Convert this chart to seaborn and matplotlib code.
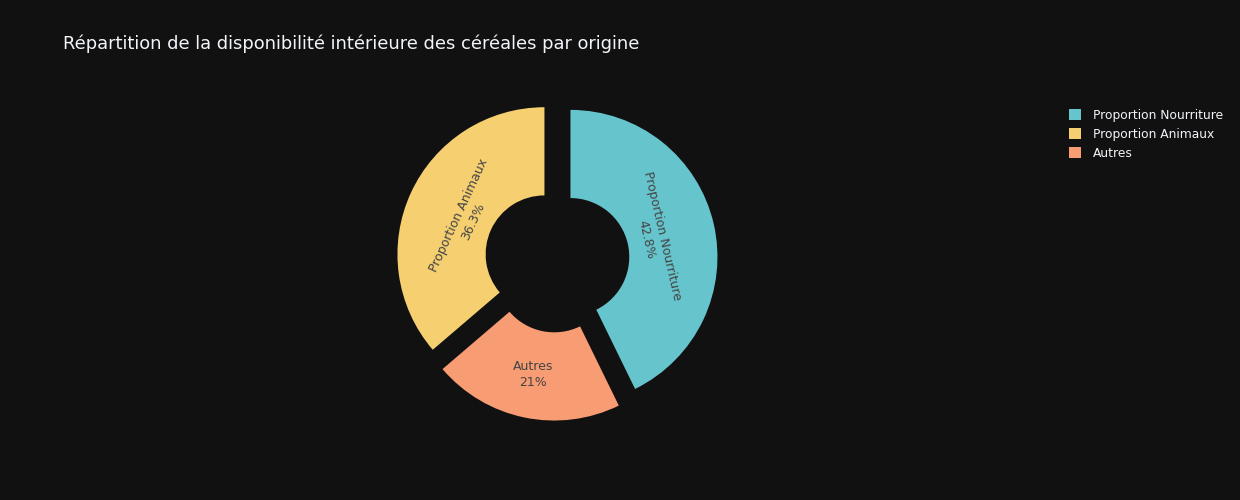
import numpy as np
import matplotlib
matplotlib.use("Agg")
import matplotlib.pyplot as plt
from matplotlib.patches import Patch
import seaborn as sns

# ---- data ----
categories = ["Proportion Nourriture", "Proportion Animaux", "Autres"]
values = [42.8, 36.3, 21.0]
colors = ["#66C5CC", "#F6CF71", "#F89C74"]
title = "Répartition de la disponibilité intérieure des céréales par origine"

# ---- style ----
BG = "#111111"
FG = "#f2f5fa"
sns.set_theme(style="dark", rc={"figure.facecolor": BG, "axes.facecolor": BG,
                                "savefig.facecolor": BG})
plt.rcParams["font.family"] = ["DejaVu Sans"]

fig = plt.figure(figsize=(12.4, 5.0), dpi=100)

# pie axes placed in pixels: centre (557, 260) from top, radius 147 px
R_PX = 147
LIM = 1.2
cx, cy = 557, 260
side = 2 * LIM * R_PX
ax = fig.add_axes([(cx - side / 2) / 1240, (500 - cy - side / 2) / 500,
                   side / 1240, side / 500])
ax.set_facecolor(BG)

# drawing order around the ring (clockwise from 12 o'clock)
order = [0, 2, 1]
draw_vals = [values[i] for i in order]
draw_cols = [colors[i] for i in order]
hole = 0.40
wedges, _ = ax.pie(draw_vals, colors=draw_cols, startangle=90, counterclock=False,
                   radius=1.0, explode=[0.094] * len(order),
                   wedgeprops=dict(width=1 - hole, linewidth=0))
ax.set_xlim(-LIM, LIM)
ax.set_ylim(-LIM, LIM)
ax.axis("off")


def fmt_pct(v, total):
    p = 100 * v / total
    s = f"{p:.3g}"
    if "." in s:
        s = s.rstrip("0").rstrip(".")
    return s + "%"


total = sum(values)
horizontal = {"Autres"}
for w, idx in zip(wedges, order):
    mid = np.deg2rad((w.theta1 + w.theta2) / 2)
    name = categories[idx]
    if name in horizontal:
        rot = 0
        r_lab = 0.70
    else:
        r_lab = 0.585
        rot = np.rad2deg(mid) - 90
        while rot > 90:
            rot -= 180
        while rot < -90:
            rot += 180
    x = w.center[0] + r_lab * np.cos(mid)
    y = w.center[1] + r_lab * np.sin(mid)
    ax.text(x, y, f"{name}\n{fmt_pct(values[idx], total)}", ha="center", va="center",
            rotation=rot, rotation_mode="anchor", color="#444444", fontsize=9,
            linespacing=1.3)

fig.text(63 / 1240, 1 - 44 / 500, title, color=FG, fontsize=12.9, ha="left", va="center")

handles = [Patch(facecolor=c, edgecolor="none") for c in colors]
fig.legend(handles, categories, loc="upper left",
           bbox_to_anchor=(1064 / 1240, 1 - 104 / 500), frameon=False,
           labelcolor=FG, fontsize=8.8, handlelength=1.0, handleheight=1.0,
           handletextpad=1.0, labelspacing=0.5, borderaxespad=0)

fig.savefig("out.png", dpi=100, facecolor=BG)
